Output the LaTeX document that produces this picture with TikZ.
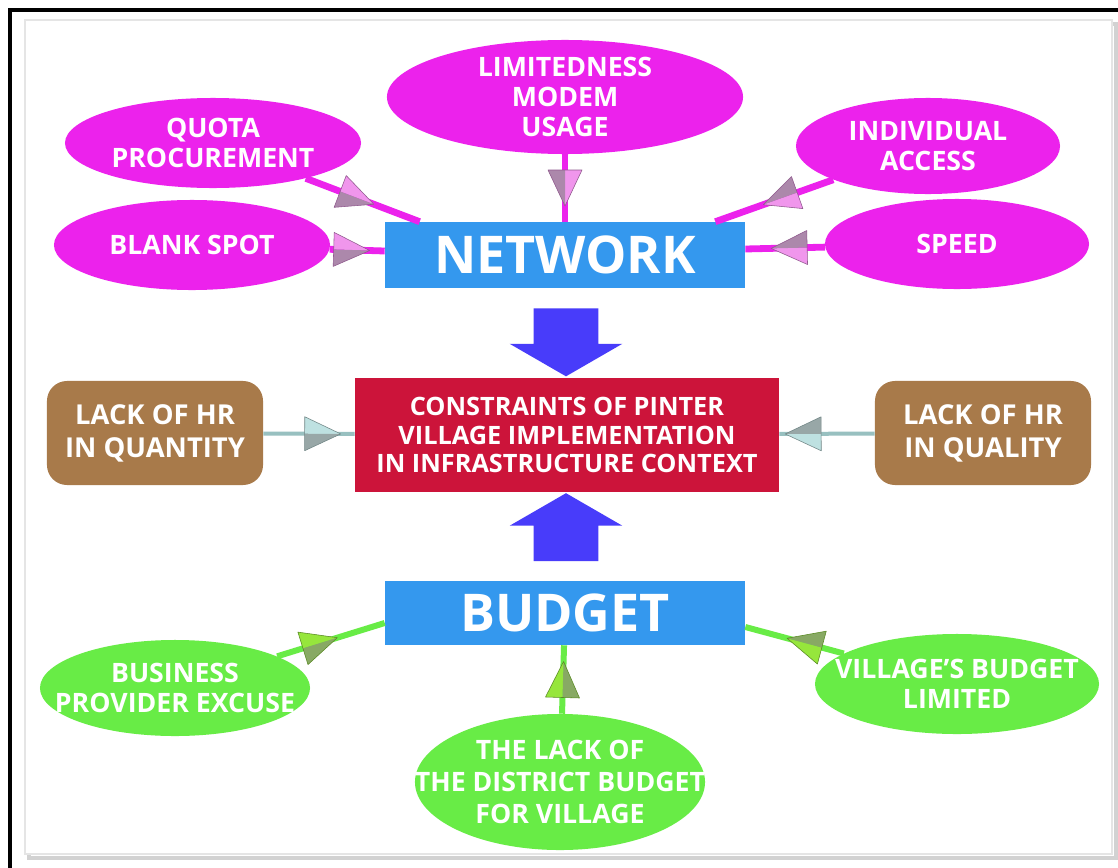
\documentclass[tikz,border=0pt]{standalone}
\usepackage{fontspec}
\setmainfont{Open Sans}
\usetikzlibrary{shapes.geometric,shapes.arrows,calc,decorations.markings}

\definecolor{pinkoval}{RGB}{236,34,236}
\definecolor{pinktip}{RGB}{240,150,236}
\definecolor{greenoval}{RGB}{104,236,70}
\definecolor{greentip}{RGB}{150,230,60}
\definecolor{topicblue}{RGB}{52,152,238}
\definecolor{consred}{RGB}{204,20,58}
\definecolor{hrbrown}{RGB}{168,122,74}
\definecolor{hrline}{RGB}{152,192,192}
\definecolor{hrtip}{RGB}{190,225,225}
\definecolor{flowblue}{RGB}{72,60,250}

\tikzset{
  oval/.style={ellipse, fill=#1, text=white, align=center, inner xsep=-1.2cm, inner ysep=-0.6cm,
    font=\bfseries\fontsize{19}{21.5}\selectfont},
  topic/.style={rectangle, fill=topicblue, text=white, minimum width=9cm,
    font=\bfseries\fontsize{37}{40}\selectfont},
  hrbox/.style={rectangle, rounded corners=0.5cm, fill=hrbrown, text=white, align=center,
    minimum width=5.4cm, minimum height=2.6cm, font=\bfseries\fontsize{19.5}{23.5}\selectfont},
  flow/.style={single arrow, fill=flowblue, draw=none, inner xsep=0.8cm, inner ysep=0pt,
    minimum height=1.7cm, single arrow head extend=0.6cm, single arrow tip angle=120},
  midtip/.style 2 args={postaction={decorate, decoration={markings,
    mark=at position #1 with {
      \fill[#2] (18,0) -- (-18,0) -- (-18,-17) -- cycle;
      \fill[#2!40!gray] (18,0) -- (-18,17) -- (-18,0) -- cycle;
      \draw[#2!60!black, line width=0.4pt, line join=round] (18,0) -- (-18,17) -- (-18,-17) -- cycle;}}}},
  netline/.style={draw=pinkoval, line width=0.17cm},
  budline/.style={draw=greenoval, line width=0.15cm},
  hrlink/.style={draw=hrline, line width=0.1cm}
}

\begin{document}
\begin{tikzpicture}[x=0.025cm, y=-0.025cm]
  \useasboundingbox (0,0) rectangle (1118,868);
  % frames
  \draw[line width=0.11cm] (10,900) -- (10,10) -- (1130,10);
  \draw[gray!35, line width=0.12cm] (29,24) rectangle (1116,858);
  \draw[gray!20, line width=0.05cm, fill=white] (25,20) rectangle (1112,854);

  % network part
  \node[topic, minimum height=1.65cm] (net) at (565,255) {NETWORK};
  \node[oval=pinkoval, minimum width=8.9cm, minimum height=2.85cm] (modem) at (565,97) {LIMITEDNESS\\MODEM\\USAGE};
  \node[oval=pinkoval, minimum width=7.4cm, minimum height=2.25cm] (quota) at (213,143) {QUOTA\\PROCUREMENT};
  \node[oval=pinkoval, minimum width=6.6cm, minimum height=2.4cm] (access) at (928,146) {INDIVIDUAL\\ACCESS};
  \node[oval=pinkoval, minimum width=6.9cm, minimum height=2.25cm] (blank) at (192,245) {BLANK SPOT};
  \node[oval=pinkoval, minimum width=6.6cm, minimum height=2.25cm] (speed) at (957,244) {SPEED};

  \draw[netline, midtip={0.45}{pinktip}] (quota) -- ($(net.north west)+(35,0)$);
  \draw[netline, midtip={0.5}{pinktip}] (modem) -- (net);
  \draw[netline, midtip={0.45}{pinktip}] (access) -- ($(net.north east)+(-30,0)$);
  \draw[netline, midtip={0.4}{pinktip}] (blank) -- ($(net.west)+(0,-4)$);
  \draw[netline, midtip={0.45}{pinktip}] (speed) -- ($(net.east)+(0,-6)$);

  % centre
  \node[rectangle, fill=consred, text=white, align=center, minimum width=10.6cm, minimum height=2.85cm,
    font=\bfseries\fontsize{18}{20.5}\selectfont] (cons) at (567,435)
    {CONSTRAINTS OF PINTER\\VILLAGE IMPLEMENTATION\\IN INFRASTRUCTURE CONTEXT};
  \node[hrbox] (quantity) at (155,433) {LACK OF HR\\IN QUANTITY};
  \node[hrbox] (quality) at (983,433) {LACK OF HR\\IN QUALITY};
  \draw[hrlink, midtip={0.65}{hrtip}] (quantity) -- (cons);
  \draw[hrlink, midtip={0.75}{hrtip}] (quality) -- (cons);

  % budget part
  \node[topic, minimum height=1.6cm] (budget) at (565,613) {BUDGET};
  \node[flow, shape border rotate=270] (down) at ($(net.south)!0.5!(cons.north)$) {};
  \node[flow, shape border rotate=90] (up) at ($(cons.south)!0.5!(budget.north)$) {};

  \node[oval=greenoval, minimum width=6.75cm, minimum height=2.4cm] (excuse) at (175,688) {BUSINESS\\PROVIDER EXCUSE};
  \node[oval=greenoval, minimum width=7.1cm, minimum height=2.5cm] (limited) at (957,684) {VILLAGE'S BUDGET\\LIMITED};
  \node[oval=greenoval, minimum width=7.25cm, minimum height=3.4cm, font=\bfseries\fontsize{19}{23}\selectfont] (district) at (560,782) {THE LACK OF\\THE DISTRICT BUDGET\\FOR VILLAGE};

  \draw[budline, midtip={0.4}{greentip}] (excuse) -- ($(budget.west)+(0,10)$);
  \draw[budline, midtip={0.4}{greentip}] (limited) -- ($(budget.east)+(0,14)$);
  \draw[budline, midtip={0.5}{greentip}] (district) -- (budget);
\end{tikzpicture}
\end{document}
